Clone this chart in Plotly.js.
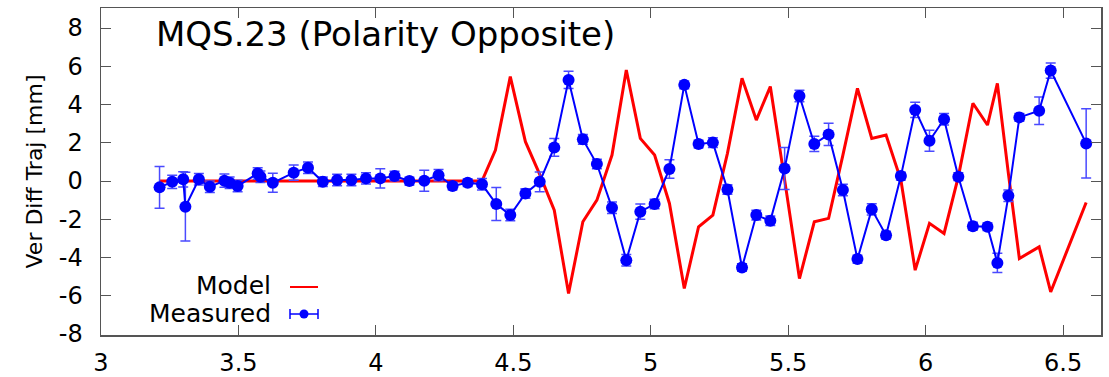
<!DOCTYPE html>
<html>
<head>
<meta charset="utf-8">
<script src="https://cdn.plot.ly/plotly-3.0.1.min.js"></script>
<style>html,body{margin:0;padding:0;background:#fff;}#chart{width:1109px;height:377px;}</style>
</head>
<body>
<div id="chart"></div>
<script>
// Measured data
const measX = [3.213,3.259,3.299,3.307,3.356,3.396,3.449,3.468,3.497,3.570,3.580,3.625,3.701,3.753,3.807,3.859,3.911,3.964,4.016,4.068,4.122,4.176,4.228,4.279,4.334,4.386,
  4.438,4.489,4.544,4.596,4.649,4.701,4.753,4.804,4.859,4.911,4.962,5.014,5.068,5.122,5.174,5.226,5.279,5.332,5.384,5.435,
  5.487,5.541,5.595,5.647,5.699,5.752,5.804,5.856,5.910,5.962,6.014,6.067,6.119,6.172,6.225,6.261,6.301,6.341,6.413,6.455,6.584];
const measY = [-0.33,-0.04,0.09,-1.34,0.09,-0.30,0.02,-0.09,-0.26,0.40,0.23,-0.09,0.44,0.70,-0.04,0.05,0.05,0.14,0.14,0.26,0.00,0.02,0.31,-0.26,-0.09,-0.17,
  -1.20,-1.78,-0.65,-0.04,1.76,5.29,2.18,0.89,-1.40,-4.14,-1.60,-1.20,0.63,5.03,1.94,2.01,-0.44,-4.52,-1.78,-2.08,
  0.66,4.45,1.94,2.44,-0.47,-4.08,-1.48,-2.83,0.26,3.72,2.11,3.23,0.23,-2.36,-2.39,-4.28,-0.77,3.33,3.68,5.78,1.97];
const measErr = [1.09,0.35,0.40,1.80,0.30,0.30,0.35,0.30,0.30,0.30,0.30,0.50,0.40,0.30,0.25,0.30,0.30,0.30,0.50,0.25,0.20,0.55,0.30,0.20,0.20,0.30,
  0.86,0.30,0.25,0.52,0.46,0.45,0.25,0.25,0.30,0.30,0.40,0.25,0.48,0.20,0.20,0.25,0.25,0.20,0.25,0.25,
  1.10,0.30,0.40,0.58,0.30,0.20,0.30,0.20,0.20,0.40,0.55,0.30,0.20,0.20,0.20,0.50,0.30,0.20,0.72,0.40,1.81];

// Model data
const modelX = [3.213,3.307,3.396,3.497,3.625,3.753,3.859,3.964,4.068,4.176,4.279,4.386,
  4.435,4.489,4.544,4.596,4.649,4.701,4.753,4.804,4.859,4.911,4.962,5.014,5.068,5.122,5.174,5.226,5.279,5.332,5.384,5.435,
  5.489,5.541,5.595,5.647,5.699,5.752,5.804,5.856,5.910,5.962,6.014,6.067,6.119,6.172,6.225,6.261,6.301,6.341,6.413,6.455,6.584];
const modelY = [0,0,0,0,0,0,0,0,0,0,0,0,
  1.62,5.46,2.06,0.35,-1.52,-5.88,-2.13,-1.00,1.36,5.81,2.23,1.36,-1.17,-5.62,-2.39,-1.78,1.45,5.38,3.19,4.94,
  -0.12,-5.10,-2.13,-1.95,1.36,4.85,2.23,2.41,0.05,-4.66,-2.21,-2.74,0.23,4.07,2.93,5.11,0.40,-4.05,-3.44,-5.80,-1.12];

const xTicks = [3,3.5,4,4.5,5,5.5,6,6.5];
const yTicks = [-8,-6,-4,-2,0,2,4,6,8];
const titleText = "MQS.23 (Polarity Opposite)";
const yTitle = "Ver Diff Traj [mm]";
const legendNames = ["Model","Measured"];

const FONT = "DejaVu Sans, Liberation Sans, Arial, sans-serif";

const traces = [
  {x: modelX, y: modelY, type: "scatter", mode: "lines", name: legendNames[0],
   line: {color: "#ff0000", width: 3}, showlegend: false},
  {x: measX, y: measY, type: "scatter", mode: "lines+markers", name: legendNames[1],
   line: {color: "#0000ff", width: 2}, marker: {color: "#0000ff", size: 12},
   error_y: {type: "data", array: measErr, visible: true, color: "#4a4aff", thickness: 1.5, width: 5},
   showlegend: false}
];

const axisCommon = {
  showline: true, linecolor: "#555", linewidth: 1.5, mirror: "ticks",
  ticks: "inside", ticklen: 10, tickcolor: "#555", tickwidth: 1,
  showgrid: false, zeroline: false,
  tickfont: {family: FONT, size: 24, color: "#000"}
};

const layout = {
  width: 1109, height: 377,
  margin: {l: 101, r: 8, t: 8, b: 42},
  paper_bgcolor: "#fff", plot_bgcolor: "#fff",
  font: {family: FONT, color: "#000"},
  xaxis: Object.assign({}, axisCommon, {range: [3, 6.638], tickvals: xTicks, ticktext: xTicks.map(String), ticklabelstandoff: 6}),
  yaxis: Object.assign({}, axisCommon, {range: [-8.05, 9.05], tickvals: yTicks, ticktext: yTicks.map(String), ticklabelstandoff: 12,
    title: {text: yTitle, font: {family: FONT, size: 22, color: "#000"}, standoff: 10}}),
  annotations: [
    {xref: "paper", yref: "paper", x: 0.053, y: 0.920, xanchor: "left", yanchor: "middle", showarrow: false,
     text: titleText, font: {family: FONT, size: 34, color: "#000"}},
    {xref: "paper", yref: "paper", x: 0.172, y: 0.150, xanchor: "right", yanchor: "middle", showarrow: false,
     text: legendNames[0], font: {family: FONT, size: 25, color: "#000"}},
    {xref: "paper", yref: "paper", x: 0.172, y: 0.067, xanchor: "right", yanchor: "middle", showarrow: false,
     text: legendNames[1], font: {family: FONT, size: 25, color: "#000"}}
  ],
  shapes: [
    {type: "line", xref: "paper", yref: "paper", x0: 0.189, x1: 0.217, y0: 0.1468, y1: 0.1468, line: {color: "#ff0000", width: 2}},
    {type: "line", xref: "paper", yref: "paper", x0: 0.189, x1: 0.217, y0: 0.0642, y1: 0.0642, line: {color: "#0000ff", width: 1.5}},
    {type: "line", xref: "paper", yref: "paper", x0: 0.189, x1: 0.189, y0: 0.049, y1: 0.0795, line: {color: "#0000ff", width: 1.5}},
    {type: "line", xref: "paper", yref: "paper", x0: 0.217, x1: 0.217, y0: 0.049, y1: 0.0795, line: {color: "#0000ff", width: 1.5}},
    {type: "circle", xref: "paper", yref: "paper", x0: 0.1985, x1: 0.2075, y0: 0.0504, y1: 0.078, fillcolor: "#0000ff", line: {color: "#0000ff", width: 0}}
  ]
};

Plotly.newPlot("chart", traces, layout, {displayModeBar: false, staticPlot: true});
</script>
</body>
</html>
